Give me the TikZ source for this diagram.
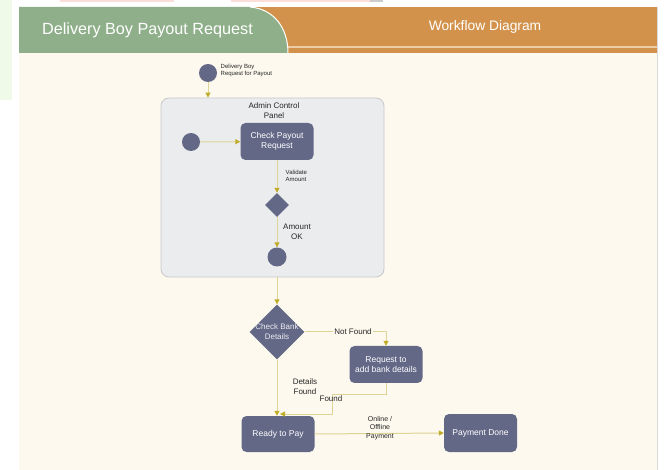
\documentclass[tikz,border=0pt]{standalone}
\usepackage{fontspec}
\setmainfont{Liberation Sans}
\usetikzlibrary{shapes.geometric,arrows.meta}
\definecolor{cream}{RGB}{253,249,238}
\definecolor{tabgreen}{RGB}{143,175,138}
\definecolor{band}{RGB}{211,146,75}
\definecolor{stripe}{RGB}{236,204,164}
\definecolor{slate}{RGB}{99,104,135}
\definecolor{wire}{RGB}{222,212,150}
\definecolor{tip}{RGB}{192,172,40}
\definecolor{panelgray}{RGB}{235,236,238}
\definecolor{panelline}{RGB}{200,200,204}
\definecolor{leftgreen}{RGB}{240,250,232}
\definecolor{toppink}{RGB}{252,222,216}
\tikzset{
  box/.style={rectangle, rounded corners=5pt, fill=slate, text=white, minimum width=73pt, minimum height=37pt, font=\fontsize{8.5}{10.5}\selectfont, align=center, inner sep=1pt},
  dot/.style={circle, fill=slate, minimum size=18pt, inner sep=0pt},
  dec/.style={diamond, fill=slate, inner sep=0pt, aspect=1},
  flow/.style={draw=wire, line width=1pt, -{Triangle[length=5pt,width=5pt,color=tip]}},
  lbl/.style={font=\fontsize{8}{10}\selectfont, align=center, text=black!85, inner sep=1pt},
  tinylbl/.style={font=\fontsize{6}{7}\selectfont, align=left, text=black!85, inner sep=0.5pt},
}
\begin{document}
\begin{tikzpicture}[x=1pt,y=-1pt]
\useasboundingbox (0,0) rectangle (667,470);
\fill[white] (0,0) rectangle (667,470);
\fill[leftgreen] (0,0) rectangle (12,100);
\fill[toppink] (60,0) rectangle (174,2);
\fill[toppink] (231,0) rectangle (370,2);
\fill[black!20] (370,0) rectangle (383,2);
% panel
\fill[cream] (19,53) rectangle (657,470);
\draw[black!15, line width=0.6pt] (657,7) -- (657,470);
% header
\fill[band] (240,7) rectangle (657,53);
\fill[stripe] (288,46) rectangle (657,48.5);
\fill[tabgreen] (19,7) -- (250,7) .. controls (274,9) and (288,28) .. (288,53) -- (19,53) -- cycle;
\draw[white, line width=1pt] (250,7) .. controls (274,9) and (288,28) .. (288,53);
\node[text=white, font=\fontsize{16.2}{19}\selectfont, inner sep=0pt] (title) at (147.5,30) {Delivery Boy Payout Request};
\node[text=white, font=\fontsize{13.8}{16}\selectfont, inner sep=0pt] (subtitle) at (485,27) {Workflow Diagram};
% container
\node[draw=panelline, fill=panelgray, rounded corners=8pt, minimum width=223pt, minimum height=179pt, line width=0.8pt] (panel) at (272.5,187.5) {};
\node[lbl] (paneltitle) at (274,111) {Admin Control\\Panel};
% nodes
\node[dot] (s0) at (208,73) {};
\node[tinylbl, anchor=west] (s0lbl) at (220,70) {Delivery Boy\\Request for Payout};
\node[dot] (s1) at (191,142) {};
\node[box] (cp) at (277,141.5) {Check Payout\\Request};
\node[dec, minimum width=24pt, minimum height=24pt] (d1) at (277,205) {};
\node[dot, minimum size=19pt] (e1) at (277,257) {};
\node[dec, minimum width=55pt, minimum height=55pt] (cb) at (277,332) {};
\node[lbl, text=white!88!slate] (cbtxt) at (277,332) {Check Bank\\Details};
\node[box] (rq) at (386,364.5) {Request to\\add bank details};
\node[box, minimum height=36pt] (rd) at (278,434) {Ready to Pay};
\node[box, minimum height=38pt] (pd) at (480.5,433) {Payment Done};
\coordinate (j1) at (332,395);
\coordinate (j2) at (280,414);
% connectors
\draw[flow] (s0) -- (s0 |- panel.north);
\draw[flow] (s1) -- (cp);
\draw[flow] (cp) -- (d1);
\draw[flow] (d1) -- (e1);
\draw[flow] (cb |- panel.south) -- (cb.north);
\draw[flow] (cb.east) -| (rq.north);
\draw[flow] (rq.south) |- (j1) |- (j2);
\draw[flow] (cb.south) -- (cb.south |- rd.north);
\draw[flow] (rd.east) -- (pd.west);
% labels
\node[tinylbl, anchor=west] (valbl) at (285,176) {Validate\\Amount};
\node[lbl] (oklbl) at (297,232) {Amount\\OK};
\node[lbl, fill=cream] (nflbl) at (353,332) {Not Found};
\node[lbl] (dflbl) at (305,387) {Details\\Found};
\node[lbl] (fdlbl) at (331,399) {Found};
\node[lbl, font=\fontsize{7}{8.5}\selectfont] (oplbl) at (380,428) {Online /\\Offline\\Payment};
\end{tikzpicture}
\end{document}
